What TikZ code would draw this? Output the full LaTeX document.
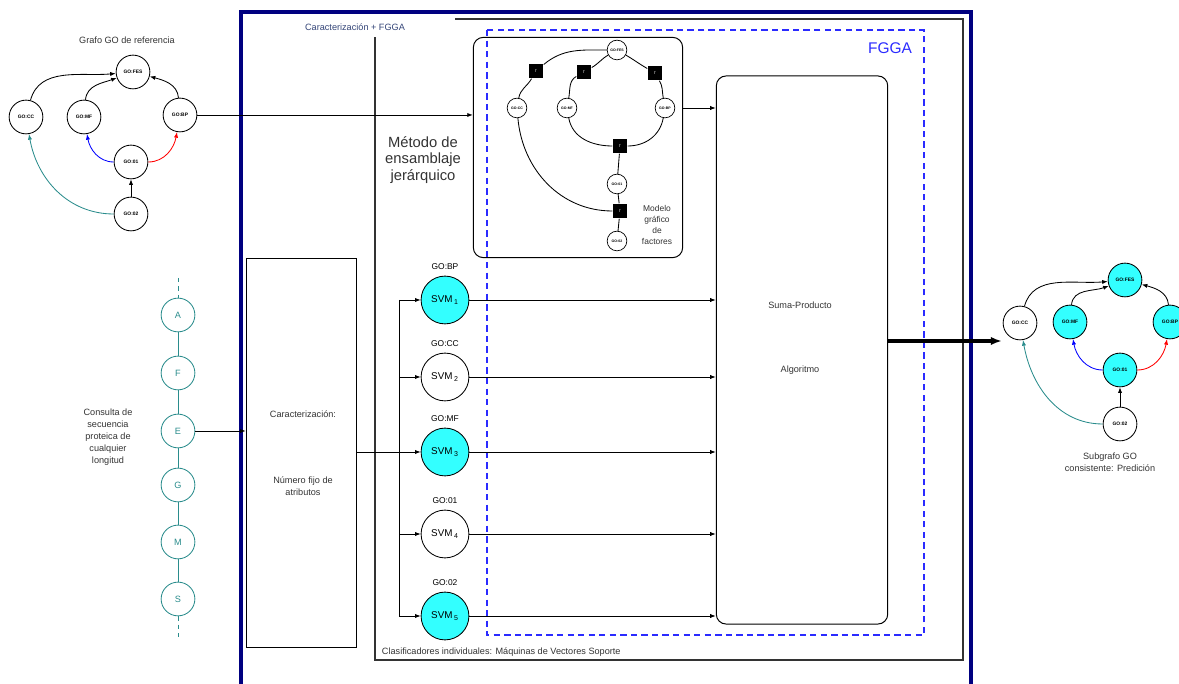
\documentclass[tikz,border=0pt]{standalone}
\usepackage{fontspec}
\setmainfont{Liberation Sans}
\usetikzlibrary{arrows.meta, positioning, calc}

\begin{document}
\begin{tikzpicture}[x=0.025cm, y=0.025cm,
    >={Latex[length=4pt,width=3pt]},
    gonode/.style={circle, draw, line width=0.6pt, minimum size=24pt, inner sep=0pt, font=\fontsize{3.5}{4}\selectfont\bfseries},
    fgvar/.style={circle, draw, line width=0.5pt, minimum size=14pt, inner sep=0pt, font=\fontsize{2.5}{3}\selectfont\bfseries},
    fgfactor/.style={rectangle, fill=black, minimum size=10.6pt, inner sep=0pt, text=white, font=\fontsize{3}{3}\selectfont},
    seqnode/.style={circle, draw=seqTeal, line width=0.6pt, minimum size=24pt, inner sep=0pt, text=seqTeal, font=\fontsize{6.5}{7}\selectfont},
    seqline/.style={draw=seqTeal, line width=0.6pt},
    svmnode/.style={circle, draw, line width=0.6pt, minimum size=34pt, inner sep=0pt, font=\fontsize{7}{8}\selectfont},
    golabel/.style={label distance=1pt, font=\fontsize{6}{7}\selectfont},
    boxtext/.style={text=textGray, align=center, font=\fontsize{6.5}{8.5}\selectfont},
    bigbox/.style={draw, line width=0.7pt, inner sep=0pt},
    link/.style={line width=0.6pt},
]
    % Define colours
    \definecolor{frameNavy}{HTML}{000080}
    \definecolor{dashBlue}{HTML}{2B2BFF}
    \definecolor{seqTeal}{HTML}{2A8C8C}
    \definecolor{svmCyan}{HTML}{33FFFF}
    \definecolor{titleBlue}{HTML}{334477}
    \definecolor{textGray}{HTML}{333333}

    % Fix the page size
    \useasboundingbox (0,0) rectangle (1179,684);

    % Draw outer and inner frames
    \draw[frameNavy, line width=2.5pt] (241,0) -- (241,672) -- (971,672) -- (971,0);
    \draw[line width=0.9pt, black!80] (455,665) -- (963,665) -- (963,24) -- (375,24) -- (375,647);
    \draw[dashBlue, dash pattern=on 4.5pt off 3pt, line width=0.9pt] (487,654) rectangle (924,49);

    % Frame labels
    \node[text=titleBlue, font=\fontsize{6.5}{7}\selectfont] (cfgga) at (355,657) {Caracterización + FGGA};
    \node[text=dashBlue, font=\fontsize{11}{12}\selectfont] (fgga) at (890,636) {FGGA};
    \node[text=textGray, align=center, font=\fontsize{10.5}{12}\selectfont] (metodo) at (423,524) {Método de\\ensamblaje\\jerárquico};
    \node[boxtext, anchor=west] (clasif) at (377,32) {Clasificadores individuales: Máquinas de Vectores Soporte};

    % Draw main boxes
    \node[bigbox] (carac) at (301.5,231) [minimum width=78.7pt, minimum height=276.4pt] {};
    \node[boxtext] (caractext) at (303,270) {Caracterización:};
    \node[boxtext] (numtext) at (303,198) {Número fijo de\\atributos};
    \node[bigbox, rounded corners=7pt] (suma) at (802,334) [minimum width=121.9pt, minimum height=389.8pt] {};
    \node[boxtext] (sumatext) at (800,379) {Suma-Producto};
    \node[boxtext] (algtext) at (800,314) {Algoritmo};
    \node[bigbox, rounded corners=7pt] (fgbox) at (578,536.5) [minimum width=148.8pt, minimum height=156.6pt] {};

    % Reference GO graph
    \node[text=textGray, font=\fontsize{6.5}{7}\selectfont] (ltitle) at (127,644) {Grafo GO de referencia};
    \node[gonode] (lcc) at (26,567) {GO:CC};
    \node[gonode] (lmf) at (84,567) {GO:MF};
    \node[gonode] (lfes) at (133,612) {GO:FES};
    \node[gonode] (lbp) at (180,569) {GO:BP};
    \node[gonode] (l01) at (131,522) {GO:01};
    \node[gonode] (l02) at (131,470) {GO:02};
    \draw[link, ->] (lcc) to[out=75, in=185] (lfes);
    \draw[link, ->] (lmf) to[out=85, in=200] (lfes);
    \draw[link, ->] (lbp) to[out=95, in=-15] (lfes);
    \draw[link, ->, blue] (l01) to[out=180, in=-80] (lmf);
    \draw[link, ->, red] (l01) to[out=0, in=-100] (lbp);
    \draw[link, ->] (l02) -- (l01);
    \draw[link, ->, seqTeal] (l02) to[out=180, in=-80] (lcc);

    % Factor graph model
    \node[fgvar] (fgfes) at (617,634) {GO:FES};
    \node[fgvar] (fgcc) at (517,576) {GO:CC};
    \node[fgvar] (fgmf) at (567,576) {GO:MF};
    \node[fgvar] (fgbp) at (665,576) {GO:BP};
    \node[fgvar] (fg01) at (617,500) {GO:01};
    \node[fgvar] (fg02) at (617,443) {GO:02};
    \node[fgfactor] (fa1) at (536,613) {f};
    \node[fgfactor] (fa2) at (584,612) {f};
    \node[fgfactor] (fa3) at (655,611) {f};
    \node[fgfactor] (fa4) at (620,538) {f};
    \node[fgfactor] (fa5) at (620,473) {f};
    \draw[link] (fgfes) to[out=180, in=40] (fa1);
    \draw[link] (fa1) to[out=-120, in=80] (fgcc);
    \draw[link] (fgfes) to[out=210, in=30] (fa2);
    \draw[link] (fa2) to[out=-150, in=80] (fgmf);
    \draw[link] (fgfes) to[out=-30, in=150] (fa3);
    \draw[link] (fa3) to[out=-60, in=100] (fgbp);
    \draw[link] (fgmf) to[out=-80, in=180] (fa4);
    \draw[link] (fgbp) to[out=-100, in=0] (fa4);
    \draw[link] (fa4) -- (fg01);
    \draw[link] (fg01) -- (fa5);
    \draw[link] (fa5) -- (fg02);
    \draw[link] (fgcc) to[out=-85, in=180] (fa5);
    \node[boxtext, font=\fontsize{6}{8}\selectfont] (fgtext) at (657,459) {Modelo\\gráfico\\de\\factores};

    % Query sequence
    \foreach \name/\lett/\y in {sa/A/369, sf/F/311, se/E/253, sg/G/199, sm/M/142, ss/S/85}
        \node[seqnode] (\name) at (178,\y) {\lett};
    \foreach \a/\b in {sa/sf, sf/se, se/sg, sg/sm, sm/ss}
        \draw[seqline] (\a) -- (\b);
    \coordinate (seqtop) at (178,406);
    \coordinate (seqbot) at (178,46);
    \draw[seqline, dashed] (seqtop) -- (sa);
    \draw[seqline, dashed] (ss) -- (seqbot);
    \node[boxtext] (consulta) at (108,247) {Consulta de\\secuencia\\proteica de\\cualquier\\longitud};

    % SVM classifiers
    \foreach \i/\y/\fillc/\go in {1/384/svmCyan/BP, 2/307/white/CC, 3/232/svmCyan/MF, 4/150/white/01, 5/68/svmCyan/02}
        \node[svmnode, fill=\fillc, label={[golabel]above:{GO:\go}}] (svm\i) at (445,\y) {SVM\,\textsubscript{\i}};
    \coordinate (bus) at (399,0);

    % Connect boxes
    \draw[link, ->] (se) -- (se -| carac.west);
    \draw[link, ->] (carac.east |- svm3) -- (svm3);
    \draw[link] (bus |- svm1) -- (bus |- svm5);
    \foreach \i in {1,2,4,5}
        \draw[link, ->] (bus |- svm\i) -- (svm\i);
    \foreach \i in {1,...,5}
        \draw[link, ->] (svm\i) -- (svm\i -| suma.west);
    \draw[link, ->] (lbp) -- (lbp -| fgbox.west);
    \draw[link, ->] (fgbox.east |- fgbp) -- (suma.west |- fgbp);

    % Output arrow
    \coordinate (outstart) at (888,343);
    \coordinate (outend) at (1002,343);
    \draw[line width=2.6pt, -{Latex[length=8pt,width=6pt]}] (outstart) -- (outend);

    % Predicted GO subgraph
    \node[gonode] (rcc) at (1020,361) {GO:CC};
    \node[gonode, fill=svmCyan] (rmf) at (1070,362) {GO:MF};
    \node[gonode, fill=svmCyan] (rfes) at (1125,404) {GO:FES};
    \node[gonode, fill=svmCyan] (rbp) at (1170,362) {GO:BP};
    \node[gonode, fill=svmCyan] (r01) at (1120,314) {GO:01};
    \node[gonode] (r02) at (1120,260) {GO:02};
    \draw[link, ->] (rcc) to[out=75, in=185] (rfes);
    \draw[link, ->] (rmf) to[out=85, in=200] (rfes);
    \draw[link, ->] (rbp) to[out=95, in=-15] (rfes);
    \draw[link, ->, blue] (r01) to[out=180, in=-80] (rmf);
    \draw[link, ->, red] (r01) to[out=0, in=-100] (rbp);
    \draw[link, ->] (r02) -- (r01);
    \draw[link, ->, seqTeal] (r02) to[out=180, in=-80] (rcc);
    \node[boxtext] (rtitle) at (1110,222) {Subgrafo GO\\consistente: Predición};

\end{tikzpicture}
\end{document}
